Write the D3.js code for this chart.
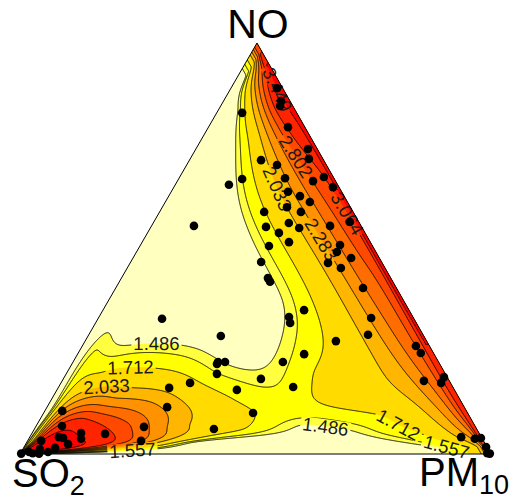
<!DOCTYPE html>
<html>
<head>
<meta charset="utf-8">
<script src="https://cdn.jsdelivr.net/npm/d3@7"></script>
<style>
  body { margin: 0; background: #fff; }
  svg { display: block; }
  text { font-family: "Liberation Sans", Arial, Helvetica, sans-serif; }
</style>
</head>
<body>
<div id="chart"></div>
<script>
// ---- data ----
// contour levels and the band colours between them (lowest band first)
const levels = [1.486, 1.557, 1.712, 2.033, 2.283, 2.546, 2.802, 3.064, 3.449];
const bandColors = ["#ffffbf", "#ffff40", "#ffff00", "#ffdb00", "#ffb600",
                    "#ff9200", "#ff6d00", "#ff4900", "#ff2400", "#ff0000"];

// surface values on a log-ratio grid:
// u = ln(SO2 / (PM10+NO)), v = ln(NO / PM10)
const surfaceU = [-5, -4, -3, -2, -1, 0, 1, 2, 3, 4, 5];
const surfaceV = [-4, -3, -2, -1, 0, 1, 2, 3, 4];
const surfaceRows = [
  [2.70, 2.10, 1.72, 1.45, 1.30, 1.30, 1.35, 1.40, 1.40, 1.45, 1.45],
  [3.10, 2.50, 2.10, 1.68, 1.42, 1.40, 1.60, 1.90, 2.10, 2.20, 2.20],
  [3.30, 2.90, 2.40, 1.90, 1.60, 1.72, 2.60, 3.35, 3.45, 3.50, 3.50],
  [3.45, 2.95, 2.65, 2.10, 1.74, 1.75, 2.80, 3.60, 3.75, 3.80, 3.80],
  [3.50, 2.90, 2.75, 2.12, 1.46, 1.50, 2.30, 3.40, 3.55, 3.60, 3.60],
  [3.50, 3.15, 2.85, 2.15, 1.42, 1.32, 1.72, 2.45, 2.10, 1.95, 1.95],
  [3.60, 3.40, 2.95, 1.85, 1.30, 1.28, 1.58, 1.55, 1.60, 1.60, 1.60],
  [3.45, 2.95, 2.40, 1.50, 1.22, 1.25, 1.45, 1.40, 1.40, 1.40, 1.40],
  [3.00, 2.45, 1.60, 1.35, 1.20, 1.25, 1.30, 1.35, 1.30, 1.30, 1.30]
];
// extra surface values around the saddle and inside the SO2 high
const extraU   = [-0.5, -0.5, -0.5, -0.5, -0.5, -0.5, -1, 0, -1, 0, -1.5, 0.5, 0.5, 0.5, 0.5, -1.5, -1.5, -1.5, 0, 0.5, -1, -1.5, -1.5, -2, 1.5, 1.5, 1, 1.5, 0.5];
const extraV   = [-0.5, -1, -1.5, -2, -2.5, 0, -0.5, -0.5, -1.5, -1.5, -1.5, -1.5, -0.5, -1, 0, -1, -0.5, 0, -2.5, -2.5, -2.5, -2.5, -2, -2.5, -1, 0, -0.5, -2, -2];
const extraVal = [1.45, 1.55, 1.64, 1.50, 1.45, 1.38, 1.58, 1.60, 1.78, 1.80, 1.90, 2.10, 2.10, 2.20, 1.82, 1.85, 1.80, 1.75, 1.44, 1.50, 1.48, 1.65, 1.73, 1.80, 3.25, 3.00, 2.65, 3.10, 1.95];

// observations (shares of SO2, PM10, NO)
const so2 = [0.012,0.019,0.027,0.036,0.116,0.020,0.030,0.133,0.105,0.196,0.231,0.104,0.048,0.020,0.013,0.114,0.094,0.080,0.135,0.111,
             0.189,0.019,0.150,0.134,0.066,0.203,0.183,0.173,0.220,0.256,0.261,0.261,0.355,0.068,0.083,0.060,0.115,0.094,0.071,0.223,
             0.263,0.268,0.090,0.117,0.193,0.276,0.331,0.029,0.027,0.054,0.007,0.020,0.043,0.016,0.002,0.002,0.007,0.002,0.535,0.431,
             0.469,0.454,0.473,0.485,0.553,0.604,0.462,0.398,0.339,0.456,0.631,0.704,0.558,0.727,0.795,0.859,0.877,0.897,0.889,0.886,
             0.845,0.852,0.919,0.940,0.952,0.938,0.959,0.997,0.979,0.971];
const pm10 = [0.098,0.122,0.126,0.169,0.054,0.238,0.252,0.152,0.192,0.135,0.114,0.225,0.288,0.306,0.338,0.248,0.279,0.307,0.265,0.300,
              0.222,0.417,0.288,0.316,0.379,0.244,0.279,0.312,0.274,0.277,0.311,0.320,0.090,0.424,0.426,0.463,0.420,0.454,0.525,0.427,
              0.403,0.413,0.579,0.593,0.533,0.481,0.446,0.709,0.728,0.768,0.806,0.807,0.916,0.948,0.959,0.981,0.990,0.997,0.136,0.282,
              0.308,0.323,0.308,0.320,0.274,0.236,0.382,0.420,0.498,0.445,0.255,0.230,0.381,0.241,0.156,0.037,0.055,0.062,0.072,0.090,
              0.104,0.111,0.067,0.029,0.036,0.057,0.040,0.002,0.017,0.026];
const no = [0.890,0.859,0.847,0.796,0.830,0.742,0.718,0.715,0.703,0.669,0.655,0.671,0.664,0.674,0.650,0.638,0.628,0.613,0.601,0.589,
            0.589,0.565,0.562,0.550,0.555,0.552,0.538,0.516,0.506,0.467,0.428,0.419,0.555,0.509,0.492,0.477,0.465,0.453,0.404,0.350,
            0.333,0.319,0.331,0.290,0.275,0.243,0.224,0.263,0.246,0.178,0.187,0.173,0.041,0.037,0.039,0.017,0.002,0.001,0.329,0.287,
            0.224,0.224,0.219,0.195,0.173,0.161,0.156,0.183,0.163,0.100,0.114,0.066,0.061,0.032,0.049,0.105,0.068,0.041,0.039,0.024,
            0.051,0.037,0.015,0.032,0.012,0.005,0.001,0.001,0.005,0.002];

// contour labels: level index and the spot (shares) where the label sits
const labelLevel = [8, 6, 3, 7, 4, 0, 2, 3, 0, 2, 1, 1];
const labelSO2   = [0.014, 0.054, 0.131, 0.013, 0.081, 0.572, 0.660, 0.740, 0.324, 0.165, 0.757, 0.084];
const labelPM10  = [0.100, 0.221, 0.222, 0.401, 0.386, 0.151, 0.126, 0.109, 0.618, 0.769, 0.233, 0.897];
const labelNO    = [0.886, 0.725, 0.647, 0.586, 0.533, 0.277, 0.214, 0.151, 0.058, 0.066, 0.010, 0.019];

// ---- layout ----
const width = 515, height = 500;
const vtx = { so2: [20, 454], pm10: [491, 454], no: [257, 43] };
const yScale = d3.scaleLinear().domain([0, 1]).range([vtx.so2[1], vtx.no[1]]);      // NO share -> y
const xScale = d3.scaleLinear().domain([0, 1]).range([vtx.so2[0], vtx.pm10[0]]);    // PM10 share -> x offset

function project(a, b, c) {
  const s = a + b + c;
  b /= s; c /= s;
  return [xScale(b) + c * (vtx.no[0] - vtx.so2[0]), yScale(c)];
}
function toComp(px, py) {
  const c = yScale.invert(py);
  const b = xScale.invert(px - c * (vtx.no[0] - vtx.so2[0]));
  return [1 - b - c, b, c];
}

// ---- surface through the read values (thin plate spline in log-ratio space) ----
const ctrl = [];
surfaceV.forEach((v, j) => surfaceU.forEach((u, i) => ctrl.push([u, v, surfaceRows[j][i]])));
extraU.forEach((u, k) => ctrl.push([u, extraV[k], extraVal[k]]));
const n = ctrl.length, m = n + 3;
const phi = r2 => r2 > 1e-12 ? 0.5 * r2 * Math.log(r2) : 0;
const A = [];
for (let i = 0; i < m; i++) A.push(new Float64Array(m + 1));
for (let i = 0; i < n; i++) {
  for (let j = 0; j < n; j++) {
    const du = ctrl[i][0] - ctrl[j][0], dv = ctrl[i][1] - ctrl[j][1];
    A[i][j] = phi(du * du + dv * dv) + (i === j ? 0.01 : 0);
  }
  A[i][n] = 1; A[i][n + 1] = ctrl[i][0]; A[i][n + 2] = ctrl[i][1];
  A[n][i] = 1; A[n + 1][i] = ctrl[i][0]; A[n + 2][i] = ctrl[i][1];
  A[i][m] = ctrl[i][2];
}
for (let col = 0; col < m; col++) {
  let piv = col;
  for (let r = col + 1; r < m; r++) if (Math.abs(A[r][col]) > Math.abs(A[piv][col])) piv = r;
  const tmp = A[col]; A[col] = A[piv]; A[piv] = tmp;
  const d = A[col][col];
  for (let r = 0; r < m; r++) {
    if (r === col) continue;
    const f = A[r][col] / d;
    if (f === 0) continue;
    for (let k = col; k <= m; k++) A[r][k] -= f * A[col][k];
  }
}
const coef = A.map((row, i) => row[m] / row[i]);

function surface(u, v) {
  let s = coef[n] + coef[n + 1] * u + coef[n + 2] * v;
  for (let i = 0; i < n; i++) {
    const du = u - ctrl[i][0], dv = v - ctrl[i][1];
    s += coef[i] * phi(du * du + dv * dv);
  }
  return s;
}

// raster over the triangle
const X0 = 14, Y0 = 38, GW = 484, GH = 422;
const uMin = d3.min(surfaceU), uMax = d3.max(surfaceU);
const vMin = d3.min(surfaceV), vMax = d3.max(surfaceV);
const grid = new Float64Array(GW * GH);
for (let iy = 0; iy < GH; iy++) {
  for (let ix = 0; ix < GW; ix++) {
    let [a, b, c] = toComp(X0 + ix + 0.5, Y0 + iy + 0.5);
    a = Math.max(a, 1e-4); b = Math.max(b, 1e-4); c = Math.max(c, 1e-4);
    let u = Math.log(a / (b + c)), v = Math.log(c / b);
    u = Math.max(uMin, Math.min(uMax, u));
    v = Math.max(vMin, Math.min(vMax, v));
    grid[iy * GW + ix] = surface(u, v);
  }
}
const contours = d3.contours().size([GW, GH]).thresholds(levels)(grid);
const path = d3.geoPath();

// ---- drawing ----
const svg = d3.select("#chart").append("svg")
  .attr("width", width).attr("height", height);

const tri = [vtx.so2, vtx.pm10, vtx.no];
const defs = svg.append("defs");
defs.append("clipPath").attr("id", "triClip")
  .append("path").attr("d", "M" + tri.join("L") + "Z");

const mask = defs.append("mask").attr("id", "labelMask")
  .attr("maskUnits", "userSpaceOnUse")
  .attr("x", 0).attr("y", 0).attr("width", width).attr("height", height);
mask.append("rect").attr("width", width).attr("height", height).attr("fill", "#fff");

const plot = svg.append("g").attr("clip-path", "url(#triClip)");
plot.append("path").attr("d", "M" + tri.join("L") + "Z").attr("fill", bandColors[0]);

plot.append("g").attr("transform", `translate(${X0},${Y0})`)
  .selectAll("path").data(contours).join("path")
  .attr("d", path)
  .attr("fill", (d, i) => bandColors[i + 1]);

plot.append("g").attr("mask", "url(#labelMask)")
  .append("g").attr("transform", `translate(${X0},${Y0})`)
  .selectAll("path").data(contours).join("path")
  .attr("d", path)
  .attr("fill", "none")
  .attr("stroke", "#000")
  .attr("stroke-width", 0.9);

// contour labels placed on the nearest point of their contour
const labelG = svg.append("g");
labelLevel.forEach((li, k) => {
  const [tx, ty] = project(labelSO2[k], labelPM10[k], labelNO[k]);
  let best = null, bestD = Infinity;
  contours[li].coordinates.forEach(poly => poly.forEach(ring => {
    ring.forEach((p, i) => {
      const x = p[0] + X0, y = p[1] + Y0;
      const dd = (x - tx) ** 2 + (y - ty) ** 2;
      if (dd < bestD) { bestD = dd; best = { ring, i, x, y }; }
    });
  }));
  if (!best) return;
  const r = best.ring, L = r.length;
  const p0 = r[(best.i - 4 + L) % L], p1 = r[(best.i + 4) % L];
  let ang = Math.atan2(p1[1] - p0[1], p1[0] - p0[0]) * 180 / Math.PI;
  if (ang > 90) ang -= 180;
  if (ang < -90) ang += 180;
  const t = labelG.append("text")
    .attr("transform", `translate(${best.x},${best.y}) rotate(${ang})`)
    .attr("text-anchor", "middle")
    .attr("dy", "0.36em")
    .attr("font-size", 18.5)
    .attr("fill", "#1a1a1a")
    .text(levels[li].toFixed(3));
  const tw = t.node().getComputedTextLength();
  mask.append("rect")
    .attr("transform", `translate(${best.x},${best.y}) rotate(${ang})`)
    .attr("x", -tw / 2 - 2).attr("y", -7).attr("width", tw + 4).attr("height", 14)
    .attr("fill", "#000");
});

svg.append("path").attr("d", "M" + tri.join("L") + "Z")
  .attr("fill", "none").attr("stroke", "#000").attr("stroke-width", 1);

svg.append("g").selectAll("circle").data(so2).join("circle")
  .attr("cx", (d, i) => project(so2[i], pm10[i], no[i])[0])
  .attr("cy", (d, i) => project(so2[i], pm10[i], no[i])[1])
  .attr("r", 4.3)
  .attr("fill", "#000");

// vertex labels
svg.append("text").attr("x", 258).attr("y", 38).attr("text-anchor", "middle")
  .attr("font-size", 41).text("NO");
const s = svg.append("text").attr("x", 12).attr("y", 487).attr("font-size", 40);
s.append("tspan").text("SO");
s.append("tspan").attr("font-size", 27).attr("dy", 8).text("2");
const p = svg.append("text").attr("x", 419).attr("y", 486).attr("font-size", 40);
p.append("tspan").text("PM");
p.append("tspan").attr("font-size", 27).attr("dy", 8).text("10");
</script>
</body>
</html>
